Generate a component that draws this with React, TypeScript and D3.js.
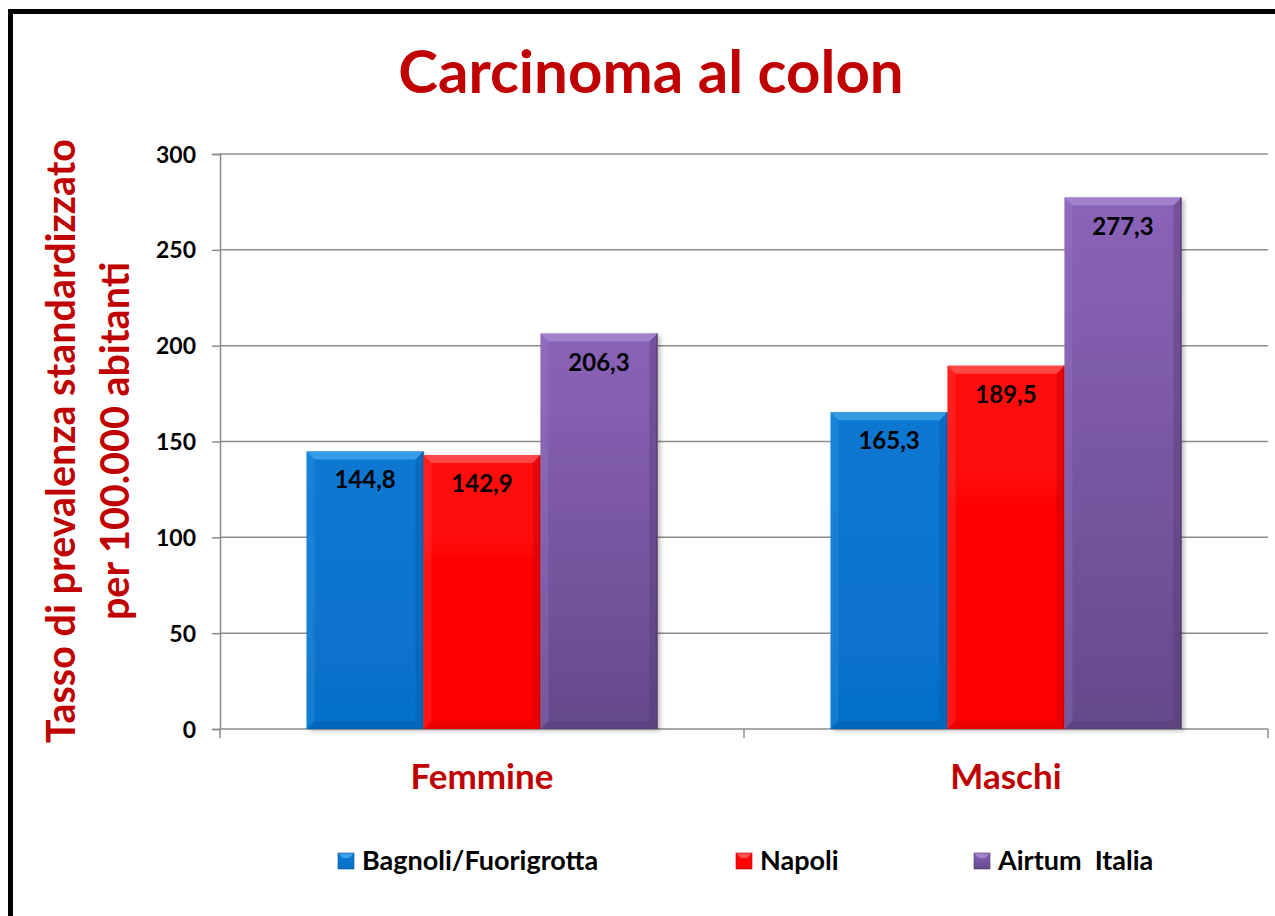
import { useEffect, useRef } from "react";
import * as d3 from "d3";

const categories = ["Femmine", "Maschi"];
const seriesNames = ["Bagnoli/Fuorigrotta", "Napoli", "Airtum  Italia"];
const bagnoliValues = [144.8, 165.3];
const napoliValues = [142.9, 189.5];
const airtumValues = [206.3, 277.3];
const yTickValues = [0, 50, 100, 150, 200, 250, 300];

const FONT = "Lato, 'Open Sans', sans-serif";
const RED_TEXT = "#C00000";

// colours per series: gradient top/bottom, light (top bevel), dark (edges)
const palette = [
  { top: "#0a78d2", bottom: "#0670c8", light: "#3fa2ea", dark: "#04549a" },
  { top: "#ff0a0a", bottom: "#ff0000", light: "#ff5252", dark: "#b80000" },
  { top: "#8b63b9", bottom: "#654a8b", light: "#a585cf", dark: "#4b3668" },
];

const App = () => {
  const svgRef = useRef<SVGSVGElement>(null);

  useEffect(() => {
    const svg = d3.select(svgRef.current);
    svg.selectAll("*").remove();

    const left = 220, right = 1268, top = 154, bottom = 729;

    const x0 = d3.scaleBand().domain(categories).range([left, right]).padding(0);
    const x1 = d3.scaleBand().domain(seriesNames).range([0, x0.bandwidth()]).paddingInner(0).paddingOuter(0.74);
    const y = d3.scaleLinear().domain([0, 300]).range([bottom, top]);

    const values = [bagnoliValues, napoliValues, airtumValues];
    const table = categories.flatMap((c, ci) =>
      seriesNames.map((s, si) => ({ cat: c, series: s, si, value: values[si][ci] }))
    );

    const defs = svg.append("defs");
    palette.forEach((p, i) => {
      const g = defs.append("linearGradient").attr("id", "grad" + i)
        .attr("x1", 0).attr("y1", 0).attr("x2", 0).attr("y2", 1);
      g.append("stop").attr("offset", "0%").attr("stop-color", p.top);
      g.append("stop").attr("offset", "100%").attr("stop-color", p.bottom);
    });
    const f = defs.append("filter").attr("id", "shadow")
      .attr("x", "-10%").attr("y", "-10%").attr("width", "130%").attr("height", "130%");
    f.append("feDropShadow").attr("dx", 3).attr("dy", 2).attr("stdDeviation", 2)
      .attr("flood-color", "#000").attr("flood-opacity", 0.25);

    // outer frame
    svg.append("rect").attr("x", 10.5).attr("y", 11.5).attr("width", 1300).attr("height", 1000)
      .attr("fill", "none").attr("stroke", "#000").attr("stroke-width", 5);

    // title
    svg.append("text").attr("x", 651).attr("y", 93).attr("text-anchor", "middle")
      .attr("font-family", FONT).attr("font-weight", "bold").attr("font-size", 60)
      .attr("fill", RED_TEXT).text("Carcinoma al colon");

    // gridlines
    svg.append("g").selectAll("line").data(yTickValues.filter(d => d > 0)).join("line")
      .attr("x1", left).attr("x2", right).attr("y1", d => y(d)).attr("y2", d => y(d))
      .attr("stroke", "#8c8c8c").attr("stroke-width", 1.5);

    // y axis
    const yAxis = d3.axisLeft(y).tickValues(yTickValues).tickSize(8).tickPadding(16);
    const yg = svg.append("g").attr("transform", `translate(${left},0)`).call(yAxis);
    yg.select(".domain").attr("stroke", "#8c8c8c").attr("stroke-width", 1.5);
    yg.selectAll(".tick line").attr("stroke", "#8c8c8c").attr("stroke-width", 1.5);
    yg.selectAll(".tick text").attr("font-family", FONT).attr("font-weight", "bold")
      .attr("font-size", 23).attr("fill", "#000").attr("dy", "0.35em");

    // x axis
    svg.append("line").attr("x1", left).attr("x2", right).attr("y1", bottom).attr("y2", bottom)
      .attr("stroke", "#8c8c8c").attr("stroke-width", 1.5);
    const bounds = [left, ...categories.map(c => (x0(c) as number) + x0.bandwidth())];
    svg.append("g").selectAll("line").data(bounds).join("line")
      .attr("x1", d => d).attr("x2", d => d).attr("y1", bottom).attr("y2", bottom + 9)
      .attr("stroke", "#8c8c8c").attr("stroke-width", 1.5);
    svg.append("g").selectAll("text").data(categories).join("text")
      .attr("x", d => (x0(d) as number) + x0.bandwidth() / 2).attr("y", 789)
      .attr("text-anchor", "middle").attr("font-family", FONT).attr("font-weight", "bold")
      .attr("font-size", 35).attr("fill", RED_TEXT).text(d => d);

    // bars
    const b = 8;
    const bars = svg.append("g").selectAll("g").data(table).join("g")
      .attr("transform", d => `translate(${(x0(d.cat) as number) + (x1(d.series) as number)},${y(d.value)})`);
    bars.each(function (d) {
      const g = d3.select(this);
      const w = x1.bandwidth();
      const h = bottom - y(d.value);
      const p = palette[d.si];
      g.append("rect").attr("width", w).attr("height", h).attr("fill", `url(#grad${d.si})`)
        .attr("filter", "url(#shadow)");
      g.append("path").attr("d", `M0,0 L${w},0 L${w - b},${b} L${b},${b} Z`)
        .attr("fill", p.light).attr("opacity", 0.85);
      g.append("path").attr("d", `M0,0 L${b},${b} L${b},${h - b} L0,${h} Z`)
        .attr("fill", p.light).attr("opacity", 0.25);
      g.append("path").attr("d", `M${w},0 L${w - b},${b} L${w - b},${h - b} L${w},${h} Z`)
        .attr("fill", p.dark).attr("opacity", 0.35);
      g.append("path").attr("d", `M0,${h} L${b},${h - b} L${w - b},${h - b} L${w},${h} Z`)
        .attr("fill", p.dark).attr("opacity", 0.3);
      g.append("line").attr("x1", w - 0.5).attr("x2", w - 0.5).attr("y1", 0).attr("y2", h)
        .attr("stroke", p.dark).attr("stroke-width", 1);
      g.append("text").attr("x", w / 2).attr("y", 37).attr("text-anchor", "middle")
        .attr("font-family", FONT).attr("font-weight", "bold").attr("font-size", 24)
        .attr("fill", "#000").text(d.value.toFixed(1).replace(".", ","));
    });

    // y axis title
    const yt = svg.append("text").attr("transform", "translate(0,441) rotate(-90)")
      .attr("text-anchor", "middle").attr("font-family", FONT).attr("font-weight", "bold")
      .attr("font-size", 39.5).attr("fill", RED_TEXT);
    yt.append("tspan").attr("x", 0).attr("y", 75).text("Tasso di prevalenza standardizzato");
    yt.append("tspan").attr("x", 0).attr("y", 129).text("per 100.000 abitanti");

    // legend
    const legendX = [338, 736, 974];
    const lg = svg.append("g").selectAll("g").data(seriesNames).join("g")
      .attr("transform", (d, i) => `translate(${legendX[i]},853)`);
    lg.each(function (d, i) {
      const g = d3.select(this);
      const p = palette[i];
      g.append("rect").attr("width", 16).attr("height", 16).attr("fill", `url(#grad${i})`);
      g.append("path").attr("d", "M0,0 L16,0 L11,5 L5,5 Z").attr("fill", p.light);
      g.append("rect").attr("width", 16).attr("height", 16).attr("fill", "none")
        .attr("stroke", p.dark).attr("stroke-width", 0.6);
      g.append("text").attr("x", 24).attr("y", 17).attr("font-family", FONT)
        .attr("font-weight", "bold").attr("font-size", 27).attr("fill", "#000")
        .attr("xml:space", "preserve").style("white-space", "pre").text(d);
    });

    return () => {
      svg.selectAll("*").remove();
    };
  }, []);

  return (
    <svg ref={svgRef} width={1275} height={916}
      style={{ position: "absolute", left: 0, top: 0, background: "#fff" }} />
  );
};

export default App;
